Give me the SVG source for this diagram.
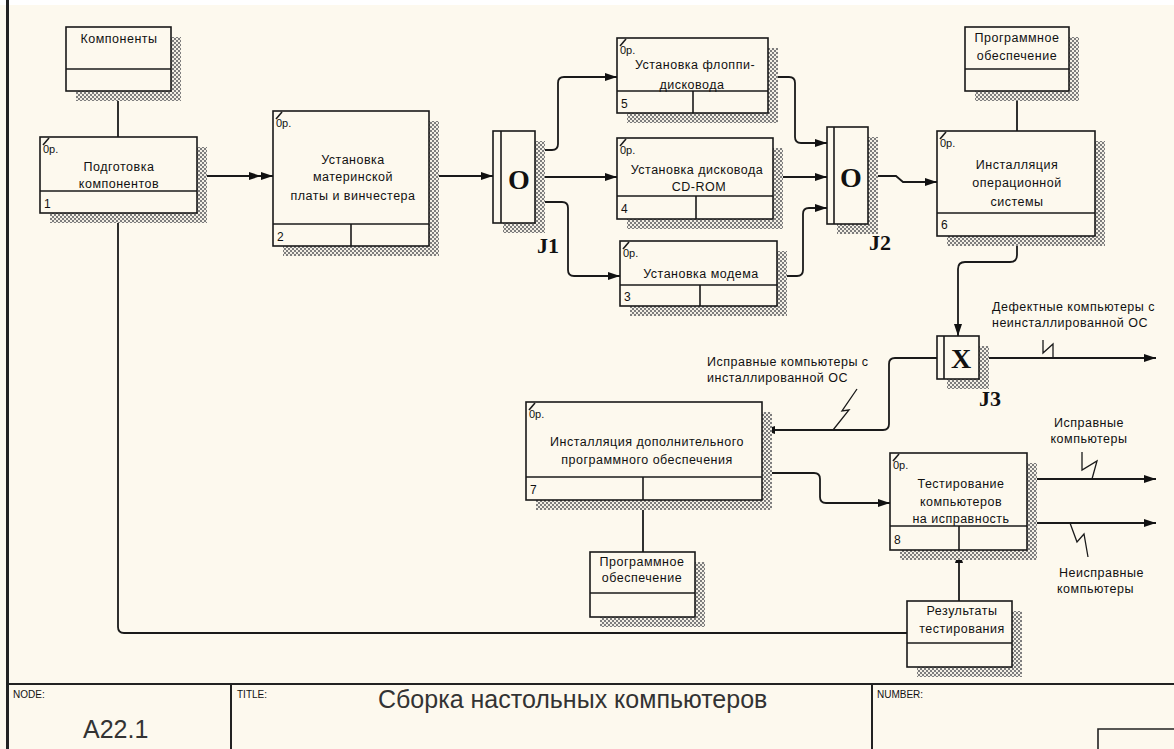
<svg xmlns="http://www.w3.org/2000/svg" width="1174" height="749" viewBox="0 0 1174 749">
<defs>
<pattern id="hatch" width="4" height="4" patternUnits="userSpaceOnUse">
<rect width="4" height="4" fill="#f3efe5"/>
<rect width="2" height="2" fill="#7d7d7d"/>
<rect x="2" y="2" width="2" height="2" fill="#7d7d7d"/>
</pattern>
<marker id="arr" markerWidth="12" markerHeight="8" refX="12" refY="4" orient="auto" markerUnits="userSpaceOnUse"><path d="M0,0 L12,4 L0,8 z" fill="#111"/></marker>
<style>
.box{fill:#fdf9ee;stroke:#1a1a1a;stroke-width:1.6}
.sh{fill:url(#hatch)}
.ln{stroke:#1a1a1a;stroke-width:1.6;fill:none}
.c{fill:none;stroke:#1a1a1a;stroke-width:1.8}
.z{fill:none;stroke:#1a1a1a;stroke-width:1.3}
.t{font-family:"Liberation Sans",Arial,sans-serif;font-size:12.5px;letter-spacing:0.5px;fill:#111;text-anchor:middle}
.l{font-family:"Liberation Sans",Arial,sans-serif;font-size:12.5px;letter-spacing:0.5px;fill:#111;text-anchor:start}
.op{font-family:"Liberation Sans",Arial,sans-serif;font-size:11px;fill:#111}
.n{font-family:"Liberation Sans",Arial,sans-serif;font-size:12px;fill:#111}
.j{font-family:"Liberation Serif","Times New Roman",serif;font-weight:bold;font-size:28px;fill:#111;text-anchor:middle}
.jl{font-family:"Liberation Serif","Times New Roman",serif;font-weight:bold;font-size:22px;fill:#111}
.tb{font-family:"Liberation Sans",Arial,sans-serif;font-size:10px;fill:#111}
.big{font-family:"Liberation Sans",Arial,sans-serif;font-size:25px;fill:#333}
</style>
</defs>
<rect width="1174" height="749" fill="#fdf9ee"/>
<rect width="1174" height="5" fill="#ffffff"/>
<line x1="7.5" y1="0" x2="7.5" y2="749" stroke="#222" stroke-width="3"/>

<g id="connectors">
<line class="c" x1="118" y1="91" x2="118" y2="137"/>
<line class="c" x1="197" y1="176" x2="273" y2="176" marker-end="url(#arr)"/>
<polygon points="249,172 261,176 249,180" fill="#111"/>
<line class="c" x1="429" y1="176" x2="493" y2="176" marker-end="url(#arr)"/>
<path class="c" d="M535,150 H552 Q558,150 558,144 V83 Q558,77 564,77 H617" marker-end="url(#arr)"/>
<line class="c" x1="535" y1="177" x2="617" y2="177" marker-end="url(#arr)"/>
<path class="c" d="M535,202 H562 Q568,202 568,208 V270 Q568,276 574,276 H620" marker-end="url(#arr)"/>
<path class="c" d="M768,77 H789 Q795,77 795,83 V137 Q795,143 801,143 H827" marker-end="url(#arr)"/>
<line class="c" x1="773" y1="177" x2="827" y2="177" marker-end="url(#arr)"/>
<path class="c" d="M777,276 H797 Q803,276 803,270 V214 Q803,208 809,208 H827" marker-end="url(#arr)"/>
<path class="c" d="M868,176 H896 L903,182 H937" marker-end="url(#arr)"/>
<line class="c" x1="1017" y1="91" x2="1017" y2="131"/>
<path class="c" d="M1017,213 V255 Q1017,262 1010,262 H965 Q958,262 958,269 V336" marker-end="url(#arr)"/>
<line class="c" x1="979" y1="358" x2="1156" y2="358" marker-end="url(#arr)"/>
<polyline class="z" points="1053,358 1053,344 1043,353 1043,340"/>
<path class="c" d="M937,358 H895 Q889,358 889,364 V424 Q889,430 883,430 H763" marker-end="url(#arr)"/>
<polyline class="z" points="833,430 849,410 842,411 857,389"/>
<path class="c" d="M762,473 H814 Q820,473 820,479 V497 Q820,503 826,503 H890" marker-end="url(#arr)"/>
<line class="c" x1="643" y1="477" x2="643" y2="552"/>
<line class="c" x1="1027" y1="479" x2="1156" y2="479" marker-end="url(#arr)"/>
<polyline class="z" points="1082,452 1082,470 1097,461 1092,479"/>
<line class="c" x1="1027" y1="523" x2="1156" y2="523" marker-end="url(#arr)"/>
<polyline class="z" points="1070,523 1077,542 1084,534 1088,557"/>
<line class="c" x1="959" y1="601" x2="959" y2="551" marker-end="url(#arr)"/>
<path class="c" d="M118,191 V627 Q118,633 124,633 H907"/>
</g>

<g id="komponenty">
<rect class="sh" x="76" y="37" width="105" height="64"/>
<rect class="box" x="66" y="27" width="105" height="64"/>
<line class="ln" x1="66" y1="69" x2="171" y2="69"/>
<text class="t" x="119" y="43">Компоненты</text>
</g>

<g id="node1">
<rect class="sh" x="50" y="147" width="157" height="76"/>
<rect class="box" x="40" y="137" width="157" height="76"/>
<line class="ln" x1="40" y1="191" x2="197" y2="191"/>
<line class="ln" x1="43" y1="145" x2="49" y2="138" stroke-width="1"/>
<text class="op" x="43" y="153">0p.</text>
<text class="t" x="119" y="171">Подготовка</text>
<text class="t" x="119" y="188">компонентов</text>
<text class="n" x="44" y="208">1</text>
</g>

<g id="node2">
<rect class="sh" x="283" y="121" width="156" height="135"/>
<rect class="box" x="273" y="111" width="156" height="135"/>
<line class="ln" x1="273" y1="224" x2="429" y2="224"/>
<line class="ln" x1="351" y1="224" x2="351" y2="246"/>
<line class="ln" x1="276" y1="119" x2="282" y2="112" stroke-width="1"/>
<text class="op" x="276" y="127">0p.</text>
<text class="t" x="353" y="164">Установка</text>
<text class="t" x="353" y="181">материнской</text>
<text class="t" x="353" y="200">платы и  винчестера</text>
<text class="n" x="277" y="241">2</text>
</g>

<g id="J1">
<rect class="sh" x="503" y="141" width="42" height="92"/>
<rect class="box" x="493" y="131" width="42" height="92"/>
<line class="ln" x1="501" y1="131" x2="501" y2="223"/>
<text class="j" x="519" y="189">O</text>
<text class="jl" x="537" y="253">J1</text>
</g>

<g id="node5">
<rect class="sh" x="627" y="48" width="151" height="75"/>
<rect class="box" x="617" y="38" width="151" height="75"/>
<line class="ln" x1="617" y1="91" x2="768" y2="91"/>
<line class="ln" x1="693" y1="91" x2="693" y2="113"/>
<line class="ln" x1="620" y1="46" x2="626" y2="39" stroke-width="1"/>
<text class="op" x="620" y="54">0p.</text>
<text class="t" x="695" y="69">Установка флоппи-</text>
<text class="t" x="692" y="89">дисковода</text>
<text class="n" x="621" y="108">5</text>
</g>

<g id="node4">
<rect class="sh" x="627" y="148" width="156" height="81"/>
<rect class="box" x="617" y="138" width="156" height="81"/>
<line class="ln" x1="617" y1="196" x2="773" y2="196"/>
<line class="ln" x1="696" y1="196" x2="696" y2="219"/>
<line class="ln" x1="620" y1="146" x2="626" y2="139" stroke-width="1"/>
<text class="op" x="620" y="154">0p.</text>
<text class="t" x="697" y="174">Установка дисковода</text>
<text class="t" x="699" y="191">CD-ROM</text>
<text class="n" x="621" y="213">4</text>
</g>

<g id="node3">
<rect class="sh" x="630" y="251" width="157" height="65"/>
<rect class="box" x="620" y="241" width="157" height="65"/>
<line class="ln" x1="620" y1="285" x2="777" y2="285"/>
<line class="ln" x1="700" y1="285" x2="700" y2="306"/>
<line class="ln" x1="623" y1="249" x2="629" y2="242" stroke-width="1"/>
<text class="op" x="623" y="257">0p.</text>
<text class="t" x="701" y="278">Установка модема</text>
<text class="n" x="624" y="301">3</text>
</g>

<g id="J2">
<rect class="sh" x="837" y="137" width="41" height="97"/>
<rect class="box" x="827" y="127" width="41" height="97"/>
<line class="ln" x1="834" y1="127" x2="834" y2="224"/>
<text class="j" x="851" y="187">O</text>
<text class="jl" x="869" y="250">J2</text>
</g>

<g id="prog1">
<rect class="sh" x="975" y="37" width="104" height="64"/>
<rect class="box" x="965" y="27" width="104" height="64"/>
<line class="ln" x1="965" y1="69" x2="1069" y2="69"/>
<text class="t" x="1017" y="42">Программное</text>
<text class="t" x="1017" y="60">обеспечение</text>
</g>

<g id="node6">
<rect class="sh" x="947" y="141" width="158" height="105"/>
<rect class="box" x="937" y="131" width="158" height="105"/>
<line class="ln" x1="937" y1="213" x2="1095" y2="213"/>
<line class="ln" x1="940" y1="139" x2="946" y2="132" stroke-width="1"/>
<text class="op" x="940" y="147">0p.</text>
<text class="t" x="1017" y="169">Инсталляция</text>
<text class="t" x="1017" y="187">операционной</text>
<text class="t" x="1017" y="206">системы</text>
<text class="n" x="941" y="229">6</text>
</g>

<g id="J3">
<rect class="sh" x="947" y="346" width="42" height="43"/>
<rect class="box" x="937" y="336" width="42" height="43"/>
<line class="ln" x1="944" y1="336" x2="944" y2="379"/>
<text class="j" x="961" y="368">X</text>
<text class="jl" x="979" y="406">J3</text>
</g>

<g id="labels">
<text class="l" x="992" y="311">Дефектные компьютеры с</text>
<text class="l" x="992" y="327">неинсталлированной ОС</text>
<text class="l" x="707" y="366">Исправные компьютеры с</text>
<text class="l" x="707" y="382">инсталлированной ОС</text>
<text class="t" x="1089" y="427">Исправные</text>
<text class="t" x="1089" y="443">компьютеры</text>
<text class="l" x="1059" y="577">Неисправные</text>
<text class="l" x="1057" y="593">компьютеры</text>
</g>

<g id="node7">
<rect class="sh" x="536" y="412" width="236" height="98"/>
<rect class="box" x="526" y="402" width="236" height="98"/>
<line class="ln" x1="526" y1="477" x2="762" y2="477"/>
<line class="ln" x1="643" y1="477" x2="643" y2="500"/>
<line class="ln" x1="529" y1="410" x2="535" y2="403" stroke-width="1"/>
<text class="op" x="529" y="418">0p.</text>
<text class="t" x="647" y="446">Инсталляция  дополнительного</text>
<text class="t" x="647" y="464">программного обеспечения</text>
<text class="n" x="530" y="494">7</text>
</g>

<g id="prog2">
<rect class="sh" x="600" y="562" width="105" height="65"/>
<rect class="box" x="590" y="552" width="105" height="65"/>
<line class="ln" x1="590" y1="593" x2="695" y2="593"/>
<text class="t" x="642" y="566">Программное</text>
<text class="t" x="642" y="582">обеспечение</text>
</g>

<g id="node8">
<rect class="sh" x="900" y="463" width="137" height="97"/>
<rect class="box" x="890" y="453" width="137" height="97"/>
<line class="ln" x1="890" y1="526" x2="1027" y2="526"/>
<line class="ln" x1="959" y1="526" x2="959" y2="550"/>
<line class="ln" x1="893" y1="461" x2="899" y2="454" stroke-width="1"/>
<text class="op" x="893" y="469">0p.</text>
<text class="t" x="961" y="488">Тестирование</text>
<text class="t" x="961" y="506">компьютеров</text>
<text class="t" x="961" y="523">на исправность</text>
<text class="n" x="894" y="544">8</text>
</g>

<g id="results">
<rect class="sh" x="917" y="611" width="105" height="66"/>
<rect class="box" x="907" y="601" width="105" height="66"/>
<line class="ln" x1="907" y1="643" x2="1012" y2="643"/>
<text class="t" x="962" y="615">Результаты</text>
<text class="t" x="962" y="633">тестирования</text>
</g>

<g id="titleblock">
<line x1="7" y1="684" x2="1174" y2="684" stroke="#222" stroke-width="2"/>
<line x1="231" y1="684" x2="231" y2="749" stroke="#222" stroke-width="2"/>
<line x1="872" y1="684" x2="872" y2="749" stroke="#222" stroke-width="2"/>
<path d="M1098,749 V729 H1174" fill="none" stroke="#222" stroke-width="1.6"/>
<text class="tb" x="13" y="698">NODE:</text>
<text class="tb" x="237" y="698">TITLE:</text>
<text class="tb" x="877" y="698">NUMBER:</text>
<text class="big" x="83" y="738">A22.1</text>
<text class="big" x="378" y="708">Сборка настольных компьютеров</text>
</g>
</svg>
